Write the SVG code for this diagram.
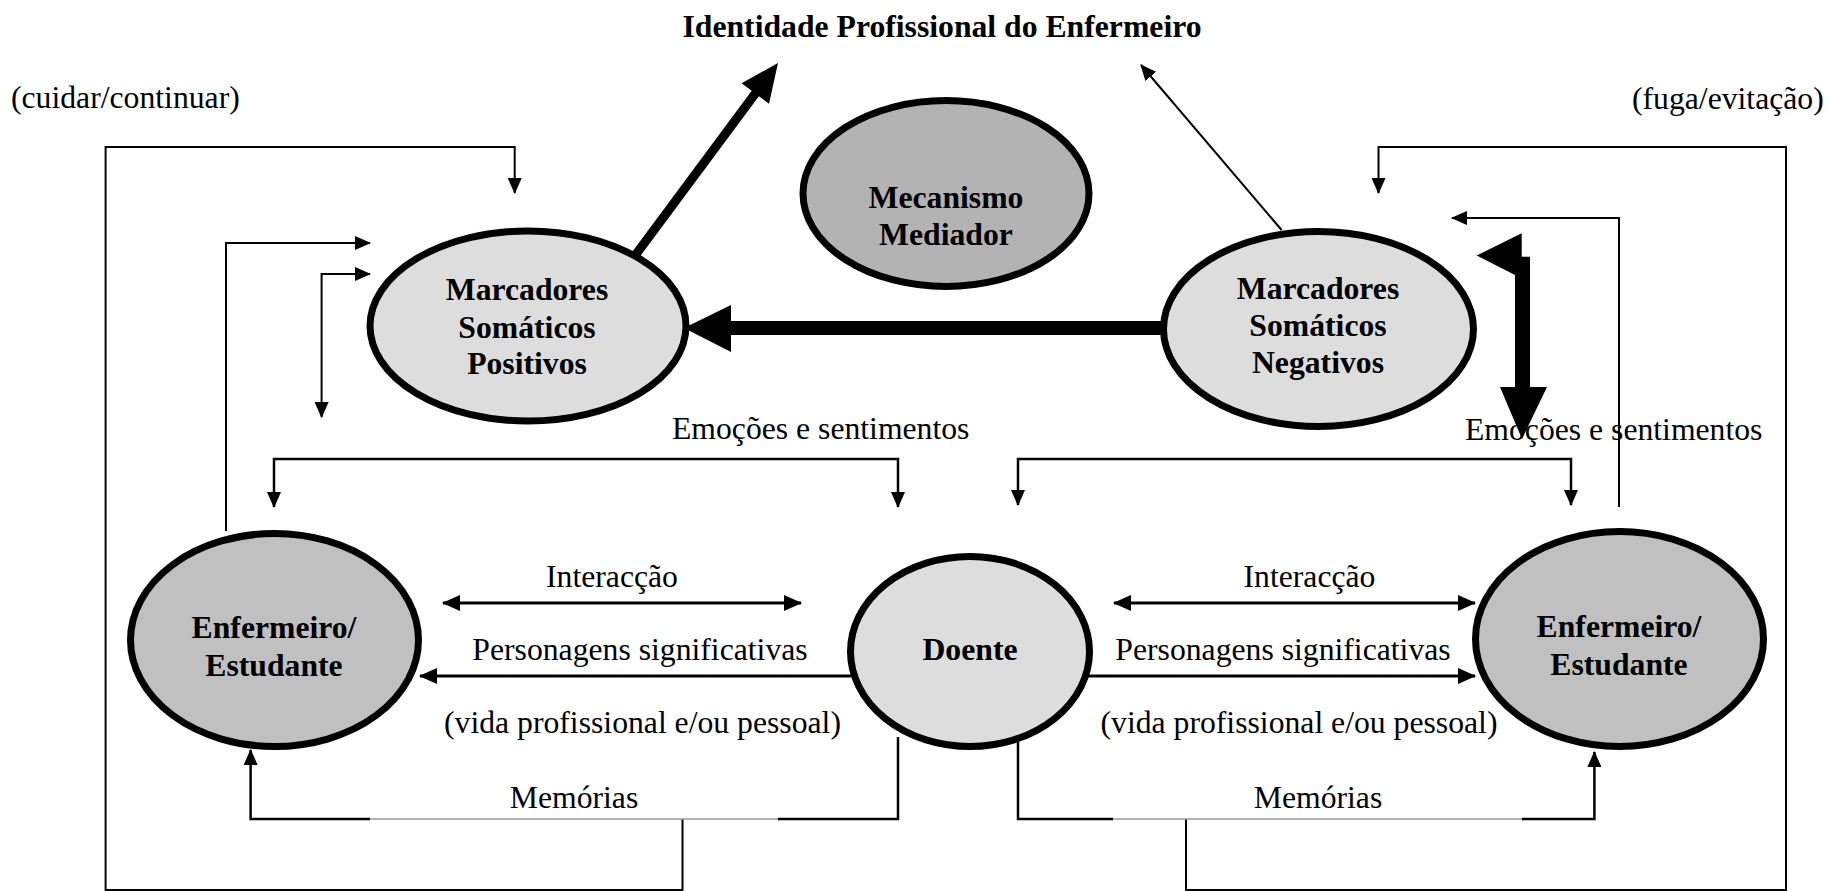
<svg xmlns="http://www.w3.org/2000/svg" width="1829" height="891" viewBox="0 0 1829 891">
<style>
.t{font-family:"Liberation Serif","Times New Roman",serif;font-size:31.7px;fill:#000}
.b{font-weight:bold}
.c{text-anchor:middle}
.node{stroke:#000;stroke-width:7}
.ln{fill:none;stroke:#000;stroke-width:2}
.lm{fill:none;stroke:#000;stroke-width:3}
.gr{fill:none;stroke:#9a9a9a;stroke-width:1.5}
</style>
<defs>
<marker id="a" viewBox="0 0 16 14" refX="15" refY="7" markerWidth="16" markerHeight="14" markerUnits="userSpaceOnUse" orient="auto-start-reverse"><path d="M0,0 L16,7 L0,14 z" fill="#000"/></marker>
<marker id="m" viewBox="0 0 18 16" refX="17" refY="8" markerWidth="18" markerHeight="16" markerUnits="userSpaceOnUse" orient="auto-start-reverse"><path d="M0,0 L18,8 L0,16 z" fill="#000"/></marker>
</defs>
<rect width="1829" height="891" fill="#fff"/>

<g id="connectors">
<!-- thick arrow Positivos -> title -->
<polygon points="630.4,254.3 751.7,90.8 741.6,83.3 778,63 769,103.7 758.9,96.2 637.6,259.7" fill="#000"/>
<!-- thin arrow Negativos -> title -->
<line class="ln" x1="1281.6" y1="230" x2="1141" y2="65" marker-end="url(#a)"/>
<!-- thick horizontal arrow Negativos -> Positivos -->
<polygon points="1162,321 731,321 731,305 684,328 731,352 731,335 1162,335" fill="#000"/>
<!-- thick flag arrow right of Negativos -->
<polygon points="1521.7,233.3 1521.7,256.7 1530,256.7 1530,387 1547,387 1522,439 1500,387 1515,387 1515,275 1476.7,255.5" fill="#000"/>
<!-- right Enfermeiro -> Negativos -->
<path class="ln" d="M1619,507 V218 H1452" marker-end="url(#a)"/>
<!-- outer right loop -->
<path class="ln" d="M1186,819 V890 H1786 V147 H1378.5 V193" marker-end="url(#a)"/>
<!-- outer left loop -->
<path class="ln" d="M682.5,819 V890 H105.6 V147 H514.7 V193" marker-end="url(#a)"/>
<!-- left Enfermeiro -> Positivos -->
<path class="ln" d="M226,531 V243 H370" marker-end="url(#a)"/>
<path class="ln" d="M370,274 H321.6 V417" marker-start="url(#a)" marker-end="url(#a)"/>
<!-- Emoções e sentimentos -->
<path class="ln" d="M274,507 V459 H898 V507" marker-start="url(#a)" marker-end="url(#a)" style="stroke-width:2.5"/>
<path class="ln" d="M1018,505 V459 H1571 V505" marker-start="url(#a)" marker-end="url(#a)" style="stroke-width:2.5"/>
<!-- Interacção -->
<line class="lm" x1="443" y1="603" x2="801" y2="603" marker-start="url(#m)" marker-end="url(#m)"/>
<line class="lm" x1="1114" y1="603" x2="1475" y2="603" marker-start="url(#m)" marker-end="url(#m)"/>
<!-- Personagens significativas -->
<line class="lm" x1="851" y1="676" x2="420" y2="676" marker-end="url(#m)"/>
<line class="lm" x1="1088" y1="676" x2="1475" y2="676" marker-end="url(#m)"/>
<!-- Memórias -->
<path class="ln" d="M898,737 V819 H778" style="stroke-width:2.5"/>
<line class="gr" x1="370" y1="819" x2="778" y2="819"/>
<path class="ln" d="M370,819 H250.6 V750" marker-end="url(#a)" style="stroke-width:2.5"/>
<path class="ln" d="M1018,737 V819 H1113" style="stroke-width:2.5"/>
<line class="gr" x1="1113" y1="819" x2="1522" y2="819"/>
<path class="ln" d="M1522,819 H1594.4 V752" marker-end="url(#a)" style="stroke-width:2.5"/>
</g>

<g id="node-positivos">
<ellipse class="node" cx="528" cy="326" rx="158" ry="95" fill="#dddddd"/>
<text class="t b c" x="527" y="300">Marcadores</text>
<text class="t b c" x="527" y="338">Somáticos</text>
<text class="t b c" x="527" y="374">Positivos</text>
</g>
<g id="node-mecanismo">
<ellipse class="node" cx="946" cy="193.5" rx="143" ry="93" fill="#b3b3b3"/>
<text class="t b c" x="946" y="208">Mecanismo</text>
<text class="t b c" x="946" y="245">Mediador</text>
</g>
<g id="node-negativos">
<ellipse class="node" cx="1318.5" cy="329" rx="155" ry="97.5" fill="#dddddd"/>
<text class="t b c" x="1318" y="299">Marcadores</text>
<text class="t b c" x="1318" y="336">Somáticos</text>
<text class="t b c" x="1318" y="373">Negativos</text>
</g>
<g id="node-doente">
<ellipse class="node" cx="970" cy="651.5" rx="119.5" ry="95" fill="#dddddd"/>
<text class="t b c" x="970" y="660">Doente</text>
</g>
<g id="node-enfermeiro-esq">
<ellipse class="node" cx="274.5" cy="640" rx="144" ry="106.5" fill="#c0c0c0"/>
<text class="t b c" x="274" y="638">Enfermeiro/</text>
<text class="t b c" x="274" y="676">Estudante</text>
</g>
<g id="node-enfermeiro-dir">
<ellipse class="node" cx="1619.5" cy="639" rx="144" ry="107.5" fill="#c0c0c0"/>
<text class="t b c" x="1619" y="637">Enfermeiro/</text>
<text class="t b c" x="1619" y="675">Estudante</text>
</g>

<g id="labels">
<text class="t b c" x="942" y="37">Identidade Profissional do Enfermeiro</text>
<text class="t" x="11" y="108">(cuidar/continuar)</text>
<text class="t" x="1632" y="109">(fuga/evitação)</text>
<text class="t" x="672" y="439">Emoções e sentimentos</text>
<text class="t" x="1465" y="440">Emoções e sentimentos</text>
<text class="t c" x="612" y="587">Interacção</text>
<text class="t c" x="1309.5" y="587">Interacção</text>
<text class="t c" x="640" y="660">Personagens significativas</text>
<text class="t c" x="1283" y="660">Personagens significativas</text>
<text class="t c" x="642.5" y="733">(vida profissional e/ou pessoal)</text>
<text class="t c" x="1299" y="733">(vida profissional e/ou pessoal)</text>
<text class="t c" x="574" y="808">Memórias</text>
<text class="t c" x="1318" y="808">Memórias</text>
</g>
</svg>
